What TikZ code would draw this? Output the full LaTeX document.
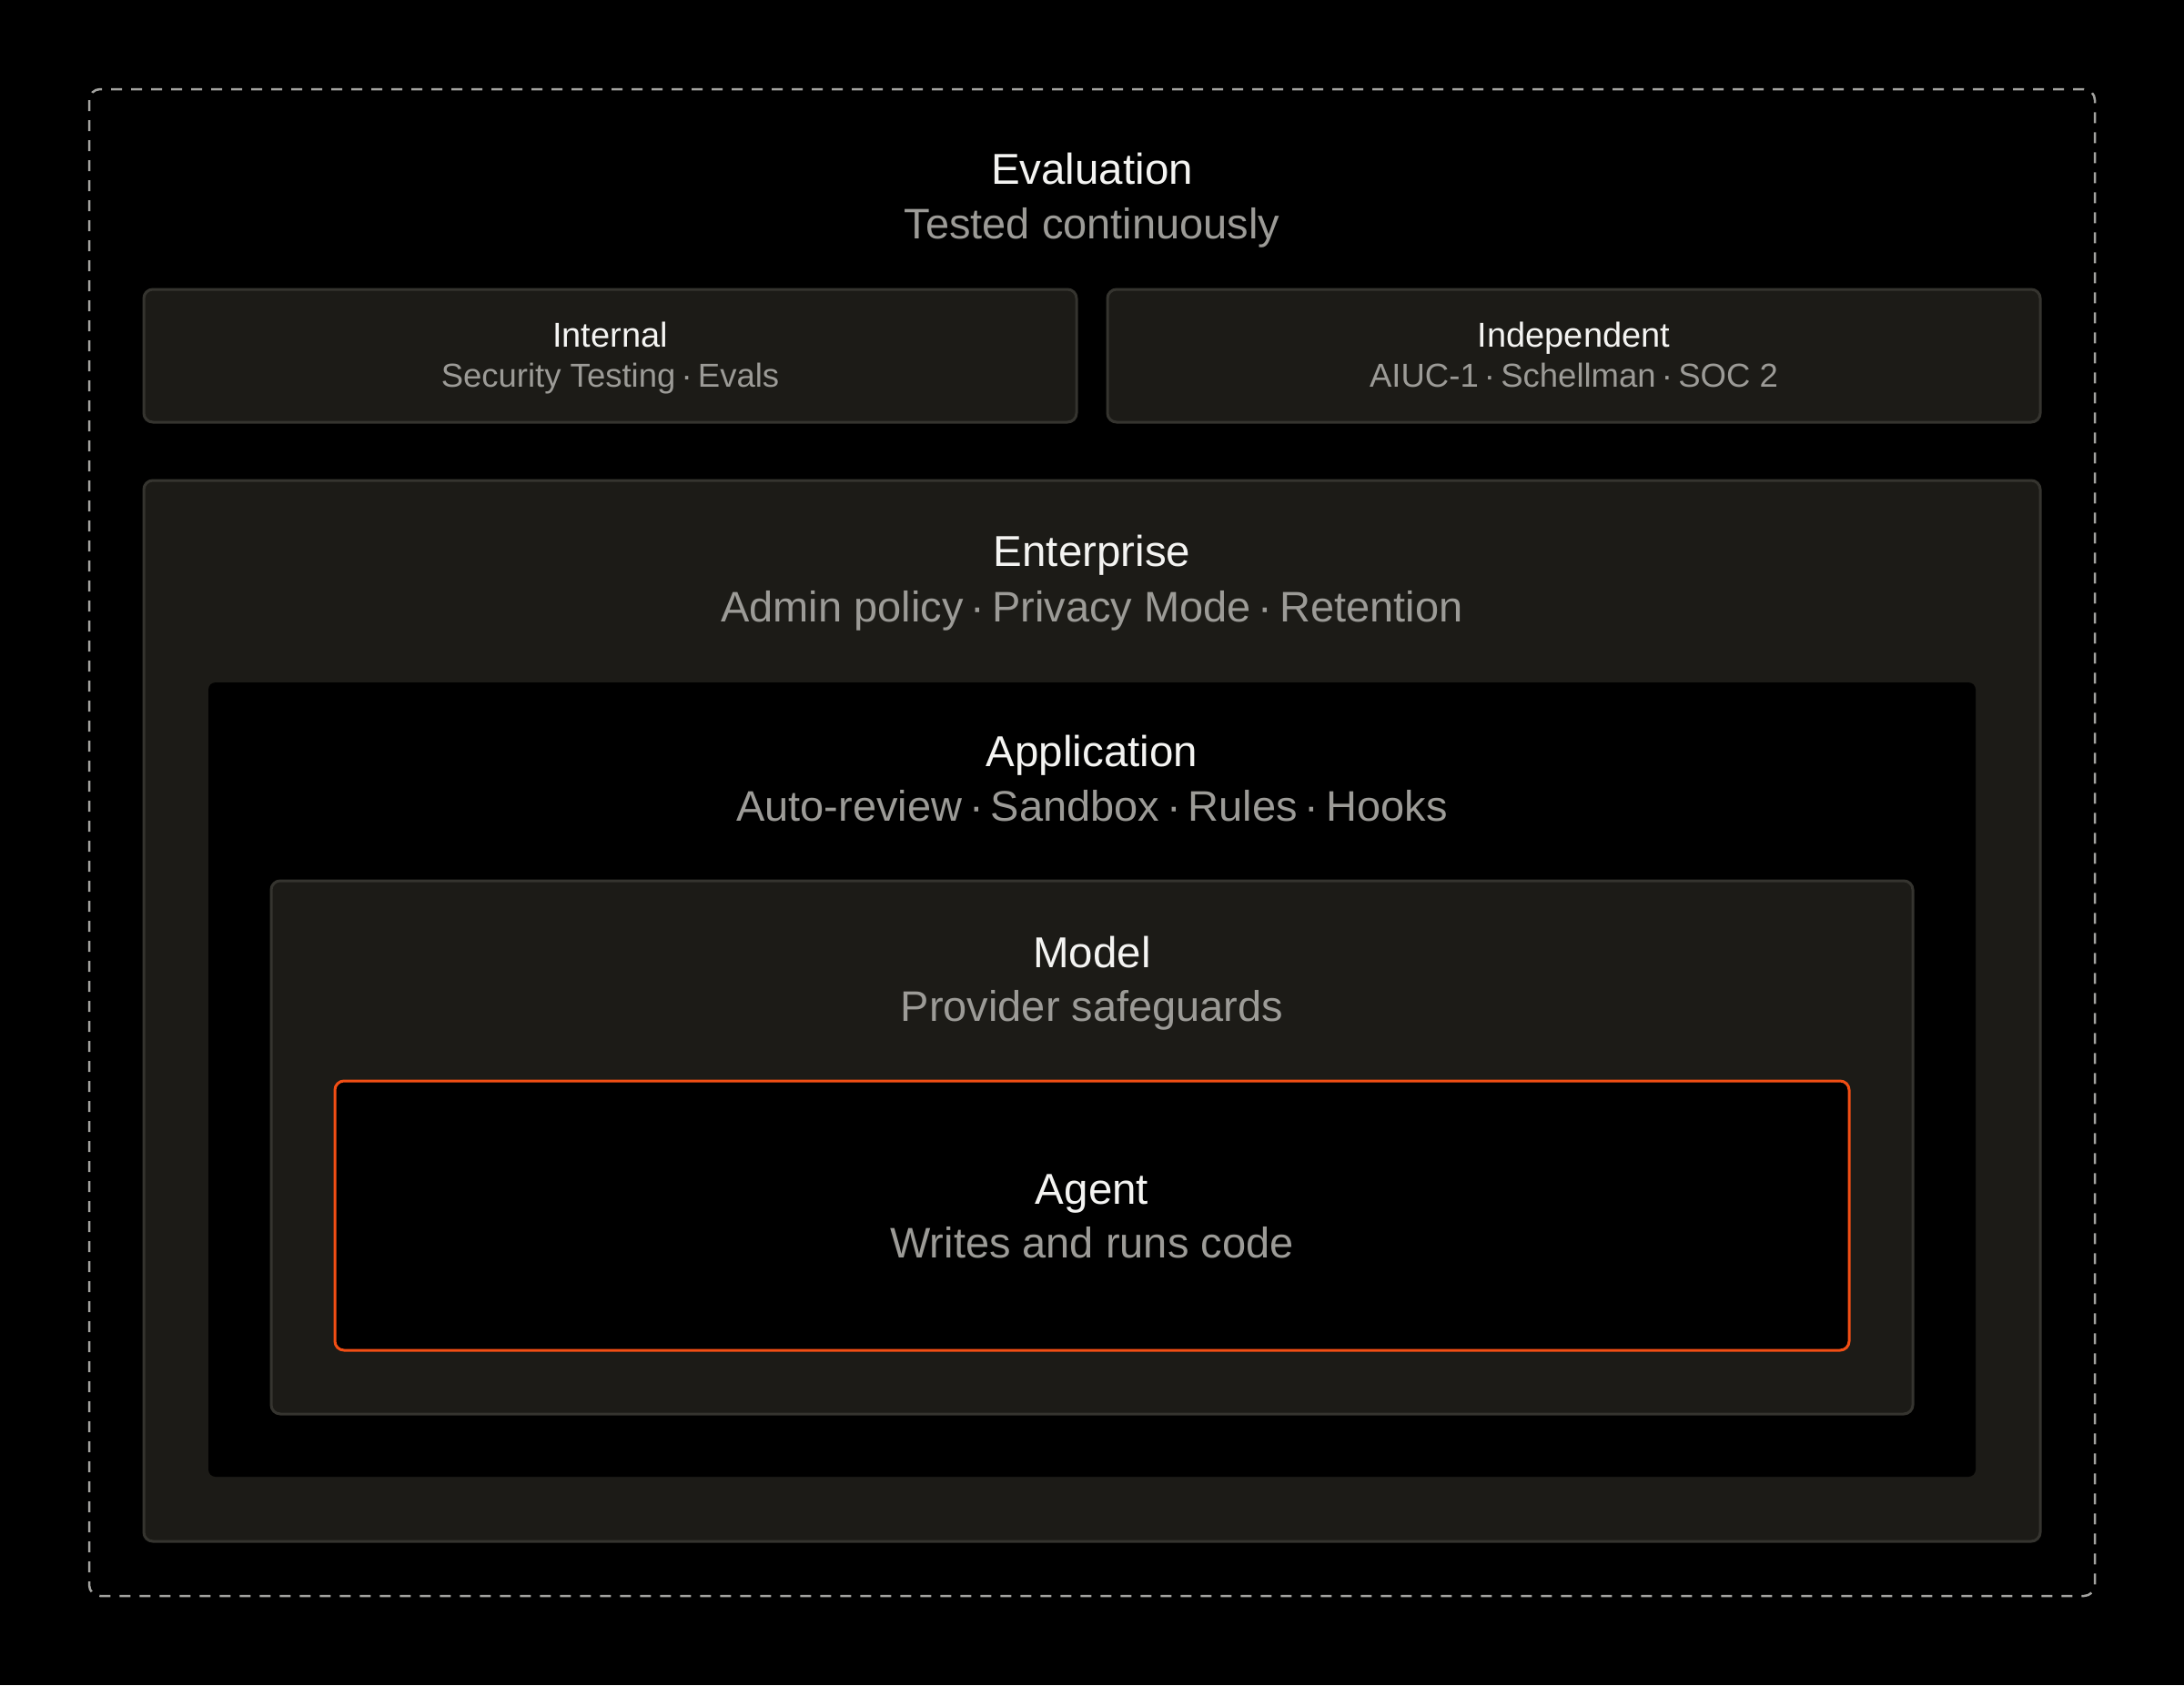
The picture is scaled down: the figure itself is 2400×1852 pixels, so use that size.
\documentclass[tikz,border=0pt]{standalone}
\usepackage{fontspec}
\setmainfont{Liberation Sans}
\definecolor{bgc}{HTML}{000000}
\definecolor{boxfill}{HTML}{1C1B17}
\definecolor{boxline}{HTML}{35342F}
\definecolor{dashc}{HTML}{A3A3A0}
\definecolor{titlec}{HTML}{F4F4F2}
\definecolor{subc}{HTML}{9C9B97}
\definecolor{orangec}{HTML}{F24E14}
\newcommand\mdot{\hspace{0.17em}·\hspace{0.17em}}
\tikzset{
  panel/.style={fill=boxfill, draw=boxline, line width=3pt, rounded corners=10pt},
  hole/.style={fill=bgc, rounded corners=8pt},
  agentbox/.style={fill=bgc, draw=orangec, line width=3pt, rounded corners=10pt},
  outerdash/.style={draw=dashc, line width=2.5pt, dash pattern=on 12pt off 10pt, rounded corners=12pt},
  bigtitle/.style={anchor=base, text=titlec, font=\fontsize{47.5pt}{56pt}\selectfont, inner sep=0pt},
  bigsub/.style={anchor=base, text=subc, font=\fontsize{47pt}{56pt}\selectfont, inner sep=0pt},
  smalltitle/.style={anchor=base, text=titlec, font=\fontsize{38pt}{45pt}\selectfont, inner sep=0pt},
  smallsub/.style={anchor=base, text=subc, font=\fontsize{36.5pt}{44pt}\selectfont, inner sep=0pt},
}
\begin{document}
\begin{tikzpicture}[x=1pt,y=-1pt]
  \fill[bgc] (0,0) rectangle (2400,1852);
  \useasboundingbox (0,0) rectangle (2400,1852);
  % outer dashed frame
  \draw[outerdash] (98,98) rectangle (2302,1754);
  % evaluation heading
  \node[bigtitle] (evt) at (1200,202) {Evaluation};
  \node[bigsub] (evs) at (1200,262) {Tested continuously};
  % internal / independent
  \draw[panel] (158,318) rectangle (1183,464);
  \node[smalltitle] (intt) at (670.5,381) {Internal};
  \node[smallsub] (ints) at (670.5,425) {Security Testing\mdot Evals};
  \draw[panel] (1217,318) rectangle (2242,464);
  \node[smalltitle] (indt) at (1729.5,381) {Independent};
  \node[smallsub] (inds) at (1729.5,425) {AIUC-1\mdot Schellman\mdot SOC 2};
  % enterprise
  \draw[panel] (158,528) rectangle (2242,1694);
  \node[bigtitle] (ent) at (1200,622) {Enterprise};
  \node[bigsub] (ens) at (1200,683) {Admin policy\mdot Privacy Mode\mdot Retention};
  % application
  \fill[hole] (229,750) rectangle (2171,1623);
  \node[bigtitle] (apt) at (1200,842) {Application};
  \node[bigsub] (aps) at (1200,902) {Auto-review\mdot Sandbox\mdot Rules\mdot Hooks};
  % model
  \draw[panel] (298,968) rectangle (2102,1554);
  \node[bigtitle] (mot) at (1200,1063) {Model};
  \node[bigsub] (mos) at (1200,1122) {Provider safeguards};
  % agent
  \draw[agentbox] (368,1188) rectangle (2032,1484);
  \node[bigtitle] (agt) at (1200,1323) {Agent};
  \node[bigsub] (ags) at (1200,1382) {Writes and runs code};
\end{tikzpicture}
\end{document}
